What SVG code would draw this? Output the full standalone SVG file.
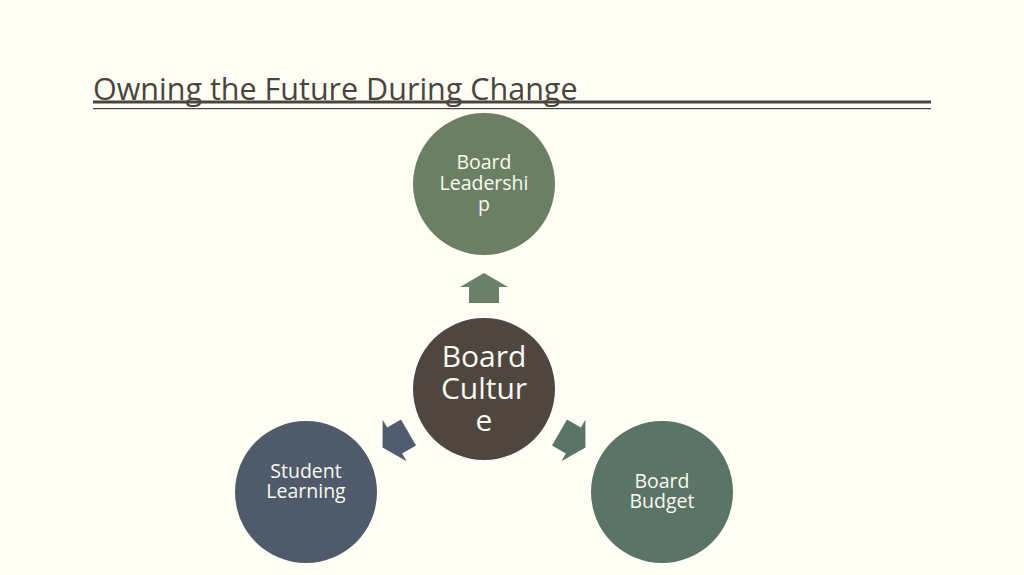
<svg xmlns="http://www.w3.org/2000/svg" width="1024" height="575" viewBox="0 0 1024 575">
  <style>
    .t{font-family:"Open Sans","Noto Sans","Liberation Sans",sans-serif;fill:#FAFAF0;text-anchor:middle}
    .s{font-size:19.5px}
    .b{font-size:30px}
    .title{font-family:"Open Sans","Noto Sans","Liberation Sans",sans-serif;font-size:30.5px;fill:#4A443E}
  </style>
  <defs>
    <path id="arr" d="M0,-15 L24,-1 L15,-1 L15,15 L-15,15 L-15,-1 L-24,-1 Z"/>
  </defs>
  <rect x="0" y="0" width="1024" height="575" fill="#FEFEF5"/>
  <g id="title">
    <text class="title" x="93" y="100">Owning the Future During Change</text>
    <rect x="93" y="100.5" width="838" height="3" fill="#4A443E"/>
    <rect x="93" y="108" width="838" height="1.2" fill="#4A443E"/>
  </g>
  <g id="connectors">
    <use href="#arr" transform="translate(484,288)" fill="#6B8068"/>
    <use href="#arr" transform="translate(395.5,440) rotate(-120)" fill="#525C70"/>
    <use href="#arr" transform="translate(572.5,440) rotate(120)" fill="#5A7468"/>
  </g>
  <g id="leadership">
    <circle cx="484" cy="184" r="71" fill="#6B7F65"/>
    <text class="t s" x="484" y="169">Board</text>
    <text class="t s" x="484" y="190">Leadershi</text>
    <text class="t s" x="484" y="211">p</text>
  </g>
  <g id="culture">
    <circle cx="484" cy="389" r="71" fill="#4F4640"/>
    <text class="t b" x="484" y="367">Board</text>
    <text class="t b" x="484" y="399">Cultur</text>
    <text class="t b" x="484" y="431">e</text>
  </g>
  <g id="student">
    <circle cx="306" cy="492" r="71" fill="#4F5A6B"/>
    <text class="t s" x="306" y="478">Student</text>
    <text class="t s" x="306" y="498">Learning</text>
  </g>
  <g id="budget">
    <circle cx="662" cy="492" r="71" fill="#5A7468"/>
    <text class="t s" x="662" y="488">Board</text>
    <text class="t s" x="662" y="508">Budget</text>
  </g>
</svg>
